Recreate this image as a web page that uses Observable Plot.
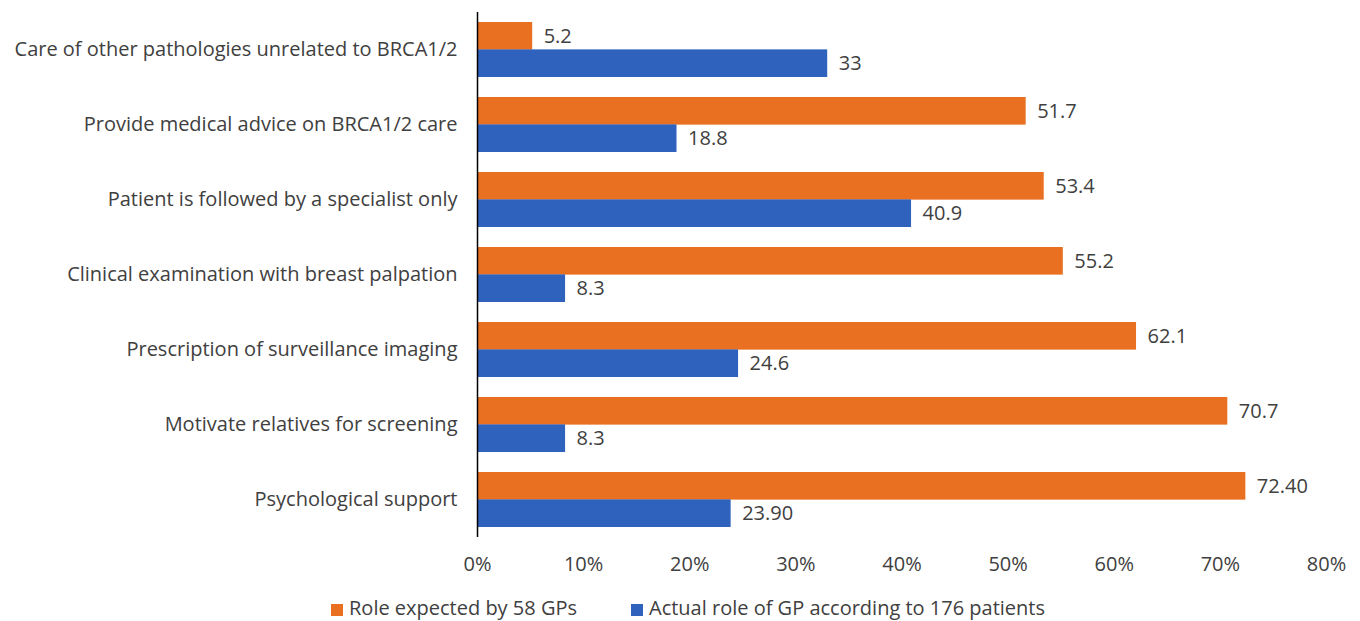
<!DOCTYPE html>
<html>
<head>
<meta charset="utf-8">
<script src="https://cdn.jsdelivr.net/npm/d3@7"></script>
<script src="https://cdn.jsdelivr.net/npm/@observablehq/plot@0.6"></script>
<style>
  html, body { margin: 0; padding: 0; background: #fff; }
  body { width: 1360px; height: 621px; position: relative; overflow: hidden; font-family: "Open Sans", sans-serif; }
  #legend { position: absolute; left: 0; top: 590px; width: 1360px; height: 36px; font-size: 20px; color: #404040; }
  .item { position: absolute; top: 0; height: 36px; line-height: 36px; white-space: nowrap; }
  .sw { display: inline-block; width: 12px; height: 12px; margin-right: 6px; vertical-align: -1px; }
</style>
</head>
<body>
<div id="chart"></div>
<div id="legend"></div>
<script>
const categories = [
  "Care of other pathologies unrelated to BRCA1/2",
  "Provide medical advice on BRCA1/2 care",
  "Patient is followed by a specialist only",
  "Clinical examination with breast palpation",
  "Prescription of surveillance imaging",
  "Motivate relatives for screening",
  "Psychological support"
];
const seriesNames = ["Role expected by 58 GPs", "Actual role of GP according to 176 patients"];
const expectedValues = [5.2, 51.7, 53.4, 55.2, 62.1, 70.7, 72.4];
const expectedLabels = ["5.2", "51.7", "53.4", "55.2", "62.1", "70.7", "72.40"];
const actualValues = [33, 18.8, 40.9, 8.3, 24.6, 8.3, 23.9];
const actualLabels = ["33", "18.8", "40.9", "8.3", "24.6", "8.3", "23.90"];
const xTicks = [0, 10, 20, 30, 40, 50, 60, 70, 80];
const colors = ["#E97020", "#2F62BD"];

const expected = categories.map((c, i) => ({category: c, value: expectedValues[i], label: expectedLabels[i]}));
const actual = categories.map((c, i) => ({category: c, value: actualValues[i], label: actualLabels[i]}));

const half = 75 * 0.73 / 2;
const textColor = "#404040";

const chart = Plot.plot({
  width: 1360,
  height: 590,
  marginLeft: 477,
  marginRight: 34,
  marginTop: 12,
  marginBottom: 53,
  style: {fontFamily: "'Open Sans', sans-serif", fontSize: "20px", color: textColor, background: "#fff"},
  x: {domain: [0, 80], ticks: xTicks, tickFormat: d => d + "%", tickSize: 0, tickPadding: 19, label: null},
  y: {domain: categories, paddingInner: 0.27, paddingOuter: 0.135, tickSize: 0, tickPadding: 20, label: null},
  marks: [
    Plot.barX(expected, {x: "value", y: "category", fill: colors[0], insetBottom: half}),
    Plot.barX(actual, {x: "value", y: "category", fill: colors[1], insetTop: half}),
    Plot.text(expected, {x: "value", y: "category", text: "label", dy: -half / 2, dx: 11, textAnchor: "start", fill: textColor, fontSize: 20}),
    Plot.text(actual, {x: "value", y: "category", text: "label", dy: half / 2, dx: 11, textAnchor: "start", fill: textColor, fontSize: 20}),
    Plot.ruleX([0], {stroke: "#000", strokeWidth: 1.5})
  ]
});
document.getElementById("chart").appendChild(chart);

const legend = document.getElementById("legend");
const lefts = [331, 631];
seriesNames.forEach((name, i) => {
  const item = document.createElement("div");
  item.className = "item";
  item.style.left = lefts[i] + "px";
  item.innerHTML = `<span class="sw" style="background:${colors[i]}"></span>${name}`;
  legend.appendChild(item);
});
</script>
</body>
</html>
